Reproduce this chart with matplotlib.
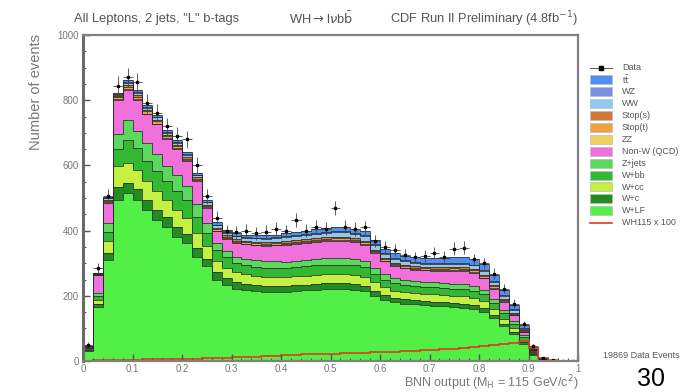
import numpy as np
import matplotlib
matplotlib.use("Agg")
import matplotlib.pyplot as plt
from matplotlib.patches import Rectangle
from matplotlib.lines import Line2D
from matplotlib.ticker import MultipleLocator

plt.rcParams['font.family'] = ['Liberation Sans', 'DejaVu Sans']

# ---------------- data ----------------
edges = np.linspace(0.0, 1.0, 51)

wlf = [30, 165, 310, 494, 514, 494, 463, 432, 411, 380, 362, 319, 290, 250, 232,
       222, 218, 214, 212, 212, 213, 215, 217, 219, 220, 220, 220, 218, 214, 200,
       188, 180, 176, 174, 172, 170, 168, 166, 164, 160, 150, 132, 106, 82, 52,
       19, 3, 1, 0, 0]
wc = [3, 10, 22, 40, 31, 33, 32, 32, 30, 30, 28, 27, 24, 22, 22,
      20, 18, 18, 17, 17, 16, 17, 17, 17, 18, 18, 18, 18, 17, 16,
      14, 13, 13, 12, 12, 12, 12, 12, 12, 12, 12, 10, 9, 7, 5,
      2, 0, 0, 0, 0]
wcc = [3, 12, 35, 65, 61, 60, 58, 58, 54, 54, 50, 46, 40, 34, 32,
       30, 30, 29, 29, 29, 28, 28, 28, 29, 29, 29, 29, 29, 28, 26,
       24, 23, 22, 22, 22, 22, 22, 22, 22, 22, 21, 18, 15, 12, 8,
       3, 1, 0, 0, 0]
wbb = [3, 12, 30, 50, 72, 65, 62, 62, 56, 58, 54, 50, 40, 34, 32,
       28, 28, 28, 28, 28, 27, 27, 28, 28, 28, 29, 29, 28, 28, 26,
       24, 23, 22, 22, 22, 22, 22, 22, 22, 22, 21, 19, 17, 14, 9,
       4, 1, 0, 0, 0]
zjets = [2, 10, 26, 47, 61, 55, 54, 52, 48, 48, 44, 40, 30, 22, 20,
         20, 20, 20, 20, 20, 20, 20, 20, 20, 20, 20, 20, 20, 19, 18,
         16, 16, 15, 15, 15, 15, 15, 15, 15, 14, 14, 12, 10, 8, 5,
         2, 0, 0, 0, 0]
nonw = [3, 55, 62, 105, 92, 95, 88, 90, 82, 80, 76, 70, 46, 36, 36,
        42, 44, 46, 47, 49, 52, 52, 52, 52, 53, 53, 53, 52, 51, 46,
        40, 37, 36, 35, 35, 36, 37, 40, 41, 41, 36, 31, 25, 18, 10,
        4, 1, 1, 0, 0]
zz = [1, 1, 2, 2, 3, 2, 2, 2, 2, 2, 2, 2, 2, 2, 2,
      2, 2, 2, 2, 2, 2, 2, 2, 2, 2, 2, 2, 2, 2, 2,
      2, 2, 2, 2, 2, 2, 2, 2, 2, 2, 2, 2, 2, 1, 1,
      0, 1, 1, 1, 0]
stopt = [0, 2, 5, 6, 7, 7, 7, 7, 6, 6, 5, 5, 4, 4, 5,
         5, 5, 5, 5, 5, 5, 5, 5, 5, 5, 5, 5, 5, 5, 4,
         4, 4, 4, 4, 4, 4, 5, 5, 5, 5, 5, 5, 4, 3, 2,
         1, 0, 0, 0, 0]
stops = [0, 1, 3, 3, 5, 5, 4, 5, 4, 5, 4, 4, 4, 4, 4,
         4, 4, 4, 4, 4, 4, 4, 4, 4, 4, 4, 4, 4, 4, 4,
         4, 4, 4, 4, 4, 4, 4, 4, 4, 4, 4, 4, 3, 3, 2,
         1, 0, 0, 0, 0]
ww = [0, 1, 4, 5, 8, 7, 7, 7, 7, 7, 7, 7, 7, 8, 8,
      9, 9, 10, 10, 11, 12, 13, 13, 14, 14, 15, 15, 15, 14, 14,
      13, 12, 12, 11, 11, 11, 11, 11, 11, 11, 11, 10, 9, 8, 5,
      2, 0, 0, 0, 0]
wz = [0, 0, 1, 1, 2, 2, 2, 2, 2, 2, 2, 2, 2, 2, 2,
      2, 2, 2, 2, 2, 3, 3, 3, 3, 3, 3, 3, 3, 3, 3,
      3, 3, 3, 3, 3, 3, 3, 3, 3, 3, 3, 3, 3, 2, 2,
      1, 0, 0, 0, 0]
ttbar = [0, 1, 3, 4, 6, 6, 6, 6, 6, 6, 6, 6, 6, 7, 7,
         8, 8, 8, 9, 9, 10, 10, 11, 11, 12, 12, 12, 12, 13, 13,
         13, 13, 13, 14, 14, 15, 15, 16, 17, 18, 18, 18, 16, 14, 9,
         4, 1, 0, 0, 0]

data = [50, 285, 505, 845, 870, 855, 790, 760, 720, 690, 680, 600, 505, 440, 398,
        395, 400, 392, 396, 405, 398, 432, 400, 412, 406, 470, 412, 405, 410, 368,
        350, 340, 325, 318, 322, 330, 320, 345, 348, 312, 300, 268, 222, 176, 112,
        46, 10, 3, 1, 0]

wh_x100 = [1, 2, 3, 4, 4, 4, 5, 5, 5, 6, 6, 7, 8, 9, 10,
           11, 12, 13, 14, 16, 18, 19, 20, 21, 22, 23, 24, 25, 26, 27,
           28, 29, 30, 32, 33, 34, 36, 38, 40, 42, 45, 48, 52, 56, 60,
           40, 10, 2, 0, 0]

# stack order bottom -> top
stack = [
    (wlf,   '#52f046', 'W+LF'),
    (wc,    '#228c22', 'W+c'),
    (wcc,   '#c4f042', 'W+cc'),
    (wbb,   '#32b832', 'W+bb'),
    (zjets, '#5cd85c', 'Z+jets'),
    (nonw,  '#f070dc', 'Non-W (QCD)'),
    (zz,    '#f0d060', 'ZZ'),
    (stopt, '#f0a040', 'Stop(t)'),
    (stops, '#d07838', 'Stop(s)'),
    (ww,    '#90c8f0', 'WW'),
    (wz,    '#7890e0', 'WZ'),
    (ttbar, '#5090f0', r't$\bar{\rm t}$'),
]

TXT = '#555555'

# ---------------- figure ----------------
W, H = 684, 392
fig = plt.figure(figsize=(W / 100, H / 100), dpi=100)
ax = fig.add_axes([83 / W, 1 - 361 / H, (578 - 83) / W, (361 - 35) / H])

bottom = np.zeros(50)
for vals, col, lab in stack:
    v = np.asarray(vals, float)
    ax.stairs(bottom + v, edges, baseline=bottom, fill=True, color=col, lw=0)
    bottom = bottom + v
bottom = np.zeros(50)
for vals, col, lab in stack:
    bottom = bottom + np.asarray(vals, float)
    ax.stairs(bottom, edges, color='#2a2a2a', lw=0.55)

# signal
ax.stairs(np.asarray(wh_x100, float), edges, color='#e03a20', lw=1.2)

# data
centers = 0.5 * (edges[:-1] + edges[1:])
d = np.asarray(data, float)
ax.errorbar(centers, d, yerr=np.sqrt(d), xerr=0.01, fmt='s', ms=2.0,
            color='black', ecolor='#444444', elinewidth=0.6, capsize=0)

ax.set_xlim(0, 1)
ax.set_ylim(0, 1000)
ax.xaxis.set_minor_locator(MultipleLocator(0.02))
ax.yaxis.set_major_locator(MultipleLocator(200))
ax.yaxis.set_minor_locator(MultipleLocator(50))
ax.set_xticks(np.arange(0, 1.01, 0.1))
ax.set_xticklabels(['0', '0.1', '0.2', '0.3', '0.4', '0.5', '0.6', '0.7', '0.8', '0.9', '1'])
ax.tick_params(axis='both', which='major', direction='in', length=5, width=1.0,
               color='#555555', labelsize=7, labelcolor='#777777')
ax.tick_params(axis='x', which='major', pad=2)
ax.tick_params(axis='y', which='major', pad=3)
ax.tick_params(axis='both', which='minor', direction='in', length=2.5, width=0.8,
               color='#555555')
for s in ax.spines.values():
    s.set_color('#808080')
    s.set_linewidth(1.6)
ax.spines['left'].set_linewidth(2.2)
ax.spines['left'].set_color('#6a6a6a')

# axis labels (ROOT style: aligned to the end)
fig.text(36 / W, 1 - 34 / H, 'Number of events', rotation=90, ha='center', va='top',
         fontsize=10.5, color='#777777')
fig.text(578 / W, 1 - 387.5 / H, r'BNN output (M$_{\rm H}$ = 115 GeV/c$^{2}$)',
         ha='right', va='baseline', fontsize=9, color='#777777')

# header texts
fig.text(74 / W, 1 - 19 / H, 'All Leptons, 2 jets, "L" b-tags', ha='left', va='center',
         fontsize=9.3, color=TXT)
fig.text(289 / W, 1 - 19 / H, r'WH$\rightarrow$l$\nu$b$\bar{\rm b}$', ha='left',
         va='center', fontsize=9.3, color=TXT)
fig.text(578 / W, 1 - 19 / H, r'CDF Run II Preliminary (4.8fb$^{-1}$)', ha='right',
         va='center', fontsize=9.3, color=TXT)

# legend (drawn manually)
FS = 6.5
y0 = 68
dy = 11.9
fig.lines.append(Line2D([590 / W, 612 / W], [1 - y0 / H, 1 - y0 / H],
                        transform=fig.transFigure, color='#555555', lw=0.7))
fig.lines.append(Line2D([601 / W], [1 - y0 / H], transform=fig.transFigure,
                        marker='s', ms=2.2, color='black', lw=0))
fig.text(622 / W, 1 - y0 / H, 'Data', ha='left', va='center', fontsize=FS, color=TXT)
for i, (vals, col, lab) in enumerate(stack[::-1]):
    yc = y0 + (i + 1) * dy
    fig.patches.append(Rectangle((590 / W, 1 - (yc + 4.5) / H), 22 / W, 9 / H,
                                 transform=fig.transFigure, facecolor=col,
                                 edgecolor='#bbbbbb', lw=0.5))
    fig.text(622 / W, 1 - yc / H, lab, ha='left', va='center', fontsize=FS,
             color=TXT)
yc = y0 + 13 * dy
fig.lines.append(Line2D([590 / W, 612 / W], [1 - yc / H, 1 - yc / H],
                        transform=fig.transFigure, color='#e03a20', lw=1.2))
fig.text(622 / W, 1 - yc / H, 'WH115 x 100', ha='left', va='center', fontsize=FS,
         color=TXT)

fig.text(603 / W, 1 - 355 / H, '19869 Data Events', ha='left', va='center',
         fontsize=6.5, color=TXT)
fig.text(637 / W, 1 / H, '30', ha='left', va='bottom', fontsize=18,
         color='black')

fig.savefig('out.png', dpi=100)
